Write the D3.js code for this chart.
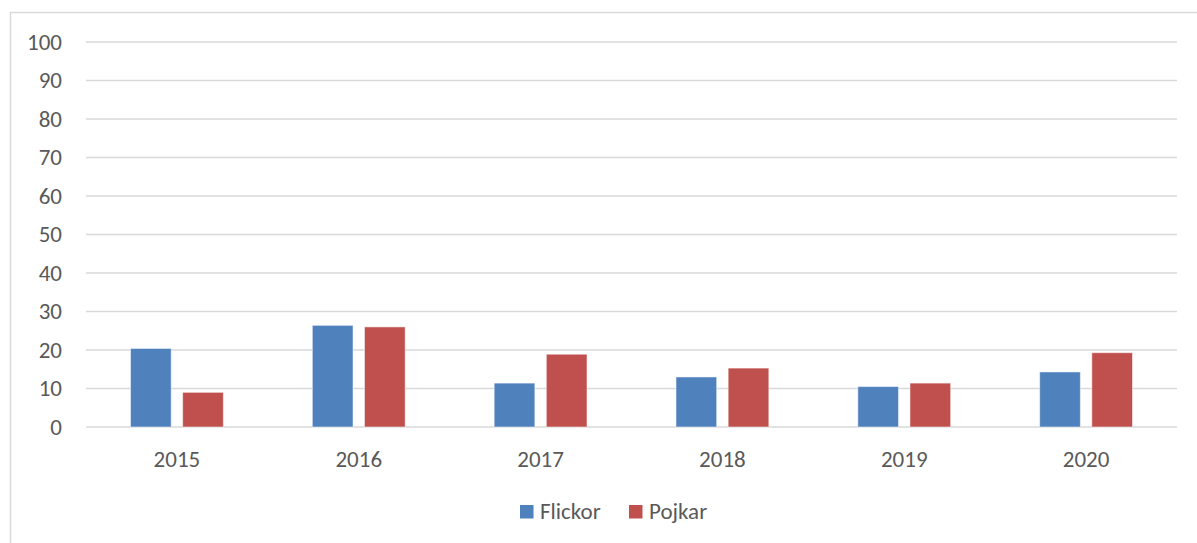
<!DOCTYPE html>
<html>
<head>
<meta charset="utf-8">
<script src="https://cdn.jsdelivr.net/npm/d3@7"></script>
<style>
  body { margin: 0; background: #fff; }
  text { font-family: Calibri, Carlito, Lato, "Open Sans", sans-serif; fill: #595959; }
</style>
</head>
<body>
<div id="chart"></div>
<script>
'use strict';

var years = ['2015', '2016', '2017', '2018', '2019', '2020'];
var seriesNames = ['Flickor', 'Pojkar'];
var flickor = [20.4, 26.4, 11.4, 13.0, 10.5, 14.3];
var pojkar = [9.0, 26.0, 18.9, 15.3, 11.4, 19.3];
var yTicks = [0, 10, 20, 30, 40, 50, 60, 70, 80, 90, 100];
var colors = ['#4F81BD', '#C0504D'];

var chart = {};
chart.w = 1197;
chart.h = 543;
chart.fontSize = '23px';
chart.margins = {top: 42, left: 86, right: 20, bottom: 116};

chart.svg = d3.select('#chart').append('svg')
    .attr('width', chart.w)
    .attr('height', chart.h);

// outer frame of the chart
chart.svg.append('rect')
    .attr('x', 10.5).attr('y', 12.5)
    .attr('width', chart.w).attr('height', chart.h)
    .attr('fill', 'none')
    .attr('stroke', '#d9d9d9')
    .attr('stroke-width', 1.5);

var pw = chart.w - chart.margins.left - chart.margins.right;
var ph = chart.h - chart.margins.top - chart.margins.bottom;

var g = chart.svg.append('g')
    .attr('transform', 'translate(' + chart.margins.left + ',' + chart.margins.top + ')');

var x = d3.scaleBand().domain(years).range([0, pw]).paddingInner(0).paddingOuter(0);
var inner = d3.scaleBand().domain(seriesNames).range([44.5, x.bandwidth() - 44.5]).paddingInner(0.22);
var y = d3.scaleLinear().domain([0, 100]).range([ph, 0]);

// gridlines
g.selectAll('line.grid')
    .data(yTicks)
    .enter().append('line')
    .attr('class', 'grid')
    .attr('x1', 0).attr('x2', pw)
    .attr('y1', function(d){ return y(d); })
    .attr('y2', function(d){ return y(d); })
    .attr('stroke', '#d9d9d9')
    .attr('stroke-width', 1.5);

// y axis labels
var yAxis = d3.axisLeft(y).tickValues(yTicks).tickSize(0).tickPadding(24);
var ya = g.append('g').call(yAxis);
ya.select('.domain').remove();
ya.selectAll('text').style('font-size', chart.fontSize).attr('fill', '#595959');

// x axis labels
var xAxis = d3.axisBottom(x).tickSize(0).tickPadding(24);
var xa = g.append('g').attr('transform', 'translate(0,' + ph + ')').call(xAxis);
xa.select('.domain').remove();
xa.selectAll('text').style('font-size', chart.fontSize).attr('fill', '#595959');

// bars
var rows = years.map(function(yr, i){
    return {year: yr, vals: [{s: 'Flickor', v: flickor[i]}, {s: 'Pojkar', v: pojkar[i]}]};
});

var groups = g.selectAll('g.year')
    .data(rows)
    .enter().append('g')
    .attr('class', 'year')
    .attr('transform', function(d){ return 'translate(' + x(d.year) + ',0)'; });

groups.selectAll('rect')
    .data(function(d){ return d.vals; })
    .enter().append('rect')
    .attr('x', function(d){ return inner(d.s); })
    .attr('width', inner.bandwidth())
    .attr('y', function(d){ return y(d.v); })
    .attr('height', function(d){ return ph - y(d.v); })
    .attr('fill', function(d, i){ return colors[i]; })
    .attr('stroke', 'rgba(255,255,255,0.5)')
    .attr('stroke-width', 1);

// legend
var legend = chart.svg.append('g').attr('transform', 'translate(520,505)');
var legendX = [0, 109];
seriesNames.forEach(function(name, i){
    legend.append('rect')
        .attr('x', legendX[i]).attr('y', 0)
        .attr('width', 13.5).attr('height', 13.5)
        .attr('fill', colors[i]);
    legend.append('text')
        .attr('x', legendX[i] + 20).attr('y', 14)
        .style('font-size', chart.fontSize)
        .text(name);
});
</script>
</body>
</html>
